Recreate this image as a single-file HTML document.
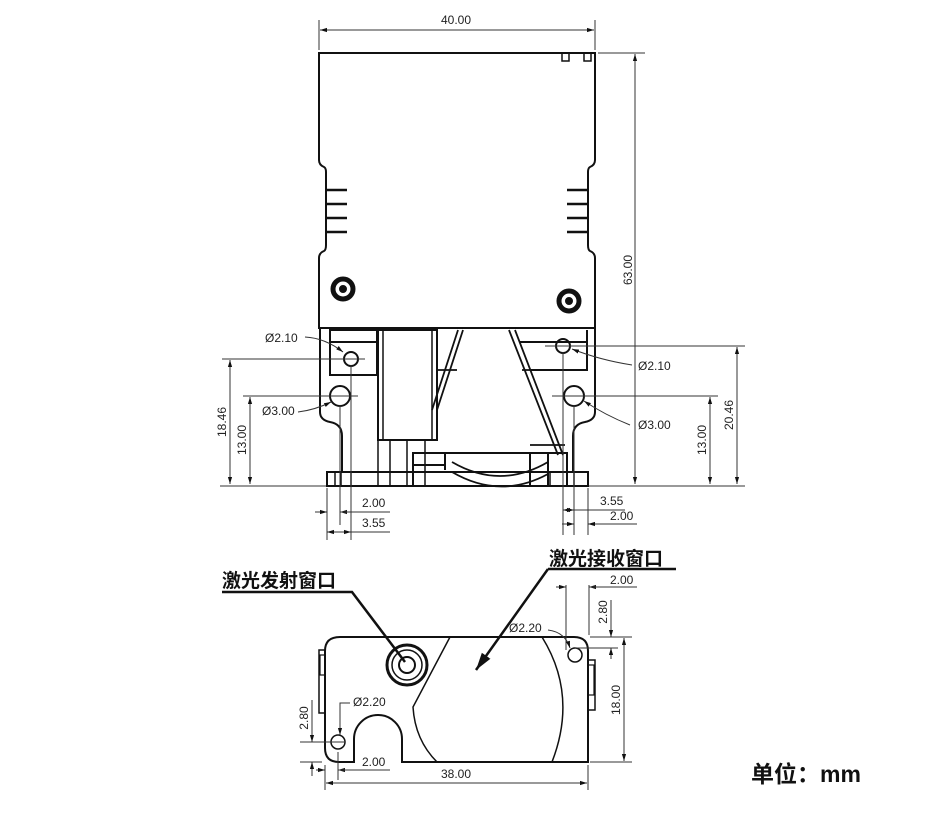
<!DOCTYPE html>
<html><head><meta charset="utf-8"><style>
html,body{margin:0;padding:0;background:#fff}
svg{display:block}
text{font-family:"Liberation Sans",Arial,sans-serif;fill:#222}
.cn{font-family:"Liberation Sans","Noto Sans CJK SC",sans-serif;fill:#111}
</style></head><body>
<svg width="943" height="814" viewBox="0 0 943 814" xmlns="http://www.w3.org/2000/svg">
<defs>
<marker id="a" viewBox="0 0 10 10" refX="10" refY="5" markerWidth="7" markerHeight="7" orient="auto-start-reverse"><path d="M0,2 L10,5 L0,8 z" fill="#111"/></marker>
</defs>
<g fill="none" stroke="#111" stroke-width="2">
<!-- top board -->
<path d="M319,53 H595 V160 Q595,165 590,167 Q588,168 588,172 V245 Q588,250 590,251 Q595,253 595,258 V328 H319 V258 Q319,253 324,251 Q326,250 326,245 V172 Q326,168 324,167 Q319,165 319,160 Z"/>
<rect x="562" y="53" width="7" height="8" stroke-width="1.5"/><rect x="584" y="53" width="7" height="8" stroke-width="1.5"/>
<g stroke-width="2.5">
<path d="M326,190 H347 M326,204 H347 M326,218 H347 M326,232 H347"/>
<path d="M567,190 H588 M567,204 H588 M567,218 H588 M567,232 H588"/>
</g>
<circle cx="343" cy="289" r="10" stroke-width="5"/><circle cx="343" cy="289" r="3" fill="#111"/>
<circle cx="569" cy="301" r="10" stroke-width="5"/><circle cx="569" cy="301" r="3" fill="#111"/>
<!-- lower body -->
<path d="M320,328 V412 Q320,420 330,422 Q342,424 342,436 V472 M595,328 V412 Q595,420 585,422 Q573,424 573,436 V472"/>
<rect x="327" y="472" width="261" height="14"/>
<path d="M335,472 V486 M341,472 V486 M351,472 V486 M378,472 V486 M390,472 V486 M407,472 V486 M425,472 V486 M550,472 V486 M567,472 V486 M574,472 V486" stroke-width="1.5"/>
<rect x="330" y="330" width="47" height="45"/><path d="M330,342 H377"/>
<path d="M587,330 V370 H530 M587,342 H520" />
<rect x="378" y="330" width="59" height="110"/><path d="M383,330 V440 M432,330 V440 M378,438 V472 M390,440 V472 M407,440 V472 M425,440 V472" stroke-width="1.5"/>
<path d="M463,330 L437,410 M458,330 L432,410 M437,370 H457 M515,330 L563,455 M509,330 L558,455 M522,370 H540 M530,445 H565" stroke-width="1.8"/>
<path d="M413,486 V453 H567 V486 M413,465 H445 M445,453 V470 M530,453 V486 M548,453 V486"/>
<path d="M452,462 Q500,490 548,462 M452,472 Q500,500 548,474" stroke-width="1.8"/>
<circle cx="351" cy="359" r="7"/><circle cx="340" cy="396" r="10"/>
<circle cx="563" cy="346" r="7"/><circle cx="574" cy="396" r="10"/>
<!-- bottom view -->
<path d="M340,637 H574 Q588,637 588,651 V762 H402 V739 A24,24 0 0 0 354,739 V762 H339 Q325,762 325,748 V651 Q325,637 340,637 Z"/>
<path d="M450,637 L413,707 Q415,740 437,762 M542,637 Q578,695 552,762" stroke-width="1.5"/>
<path d="M325,650 H319 V713 H325 M588,660 H595 V710 H588" stroke-width="1.5"/>
<rect x="320" y="655" width="5" height="20" stroke-width="1.2"/><rect x="588" y="665" width="6" height="30" stroke-width="1.2"/>
<circle cx="338" cy="742" r="7" stroke-width="1.5"/><circle cx="575" cy="655" r="7" stroke-width="1.5"/>
<circle cx="407" cy="665" r="20" stroke-width="3"/><circle cx="407" cy="665" r="15" stroke-width="1.5"/><circle cx="407" cy="665" r="8" stroke-width="2"/>
</g>
<!-- dimension lines -->
<g fill="none" stroke="#333" stroke-width="1">
<path d="M319,20 V50 M595,20 V50"/><path d="M320,30 H594" marker-start="url(#a)" marker-end="url(#a)"/>
<path d="M598,53 H645"/><path d="M635,54 V484" marker-start="url(#a)" marker-end="url(#a)"/>
<path d="M220,486 H326 M589,486 H745"/>
<path d="M222,359 H365 M243,396 H358 M545,346 H745 M552,396 H718"/>
<path d="M230,360 V484" marker-start="url(#a)" marker-end="url(#a)"/>
<path d="M250,397 V484" marker-start="url(#a)" marker-end="url(#a)"/>
<path d="M710,397 V484" marker-start="url(#a)" marker-end="url(#a)"/>
<path d="M737,347 V484" marker-start="url(#a)" marker-end="url(#a)"/>
<path d="M351,365 V500 M340,405 V520 M563,352 V520 M574,405 V535"/>
<path d="M327,488 V540 M351,488 V540 M340,488 V525 M563,488 V535 M574,488 V535 M588,488 V535"/>
<path d="M315,512 H327" marker-end="url(#a)"/><path d="M352,512 H340" marker-end="url(#a)"/><path d="M340,512 H390"/>
<path d="M327,532 H351 " marker-start="url(#a)" marker-end="url(#a)"/><path d="M351,532 H390"/>
<path d="M563,510 H574" marker-start="url(#a)" marker-end="url(#a)"/><path d="M574,510 H625"/>
<path d="M562,524 H574" marker-end="url(#a)"/><path d="M600,524 H588" marker-end="url(#a)"/><path d="M600,524 H637"/>
<path d="M305,337 Q325,338 343,352" marker-end="url(#a)"/>
<path d="M298,412 Q315,410 331,402" marker-end="url(#a)"/>
<path d="M632,365 Q600,360 572,349" marker-end="url(#a)"/>
<path d="M630,425 Q605,415 584,401" marker-end="url(#a)"/>
<!-- bottom view dims -->
<path d="M566,585 V650 M589,585 V635"/><path d="M556,587 H566" marker-end="url(#a)"/><path d="M600,587 H589" marker-end="url(#a)"/><path d="M589,587 H637"/>
<path d="M575,648 H618 M590,637 H632 M590,762 H632"/>
<path d="M611,622 V637" marker-end="url(#a)"/><path d="M611,659 V648" marker-end="url(#a)"/><path d="M611,600 V622"/>
<path d="M624,638 V761" marker-start="url(#a)" marker-end="url(#a)"/>
<path d="M548,630 Q565,632 570,648" marker-end="url(#a)"/>
<path d="M300,742 H345 M300,762 H322"/>
<path d="M312,728 V742" marker-end="url(#a)"/><path d="M312,776 V762" marker-end="url(#a)"/><path d="M312,700 V728"/>
<path d="M350,703 H340 V735" marker-end="url(#a)"/>
<path d="M338,752 V780 M325,765 V790 M588,765 V790"/>
<path d="M316,770 H325" marker-end="url(#a)"/><path d="M348,770 H338" marker-end="url(#a)"/><path d="M338,770 H390"/>
<path d="M326,783 H587" marker-start="url(#a)" marker-end="url(#a)"/>
</g>
<!-- leaders -->
<g fill="none" stroke="#111" stroke-width="2.5">
<path d="M222,592 H352 L405,662" />
<path d="M548,569 H676 M548,569 L476,670" marker-end="url(#a)"/>
</g>
<g font-size="12">
<text x="456" y="24" text-anchor="middle">40.00</text>
<text x="632" y="270" transform="rotate(-90 632 270)" text-anchor="middle">63.00</text>
<text x="265" y="342">Ø2.10</text>
<text x="262" y="415">Ø3.00</text>
<text x="638" y="370">Ø2.10</text>
<text x="638" y="429">Ø3.00</text>
<text x="226" y="422" transform="rotate(-90 226 422)" text-anchor="middle">18.46</text>
<text x="246" y="440" transform="rotate(-90 246 440)" text-anchor="middle">13.00</text>
<text x="706" y="440" transform="rotate(-90 706 440)" text-anchor="middle">13.00</text>
<text x="733" y="415" transform="rotate(-90 733 415)" text-anchor="middle">20.46</text>
<text x="362" y="507">2.00</text><text x="362" y="527">3.55</text>
<text x="600" y="505">3.55</text><text x="610" y="520">2.00</text>
<text x="610" y="584">2.00</text>
<text x="607" y="612" transform="rotate(-90 607 612)" text-anchor="middle">2.80</text>
<text x="509" y="632">Ø2.20</text>
<text x="620" y="700" transform="rotate(-90 620 700)" text-anchor="middle">18.00</text>
<text x="353" y="706">Ø2.20</text>
<text x="308" y="718" transform="rotate(-90 308 718)" text-anchor="middle">2.80</text>
<text x="362" y="766">2.00</text>
<text x="456" y="778" text-anchor="middle">38.00</text>
</g>
<text class="cn" x="222" y="587" font-size="19" font-weight="bold">激光发射窗口</text>
<text class="cn" x="549" y="565" font-size="19" font-weight="bold">激光接收窗口</text>
<text class="cn" x="751" y="782" font-size="23" font-weight="bold">单位：mm</text>
</svg>
</body></html>
